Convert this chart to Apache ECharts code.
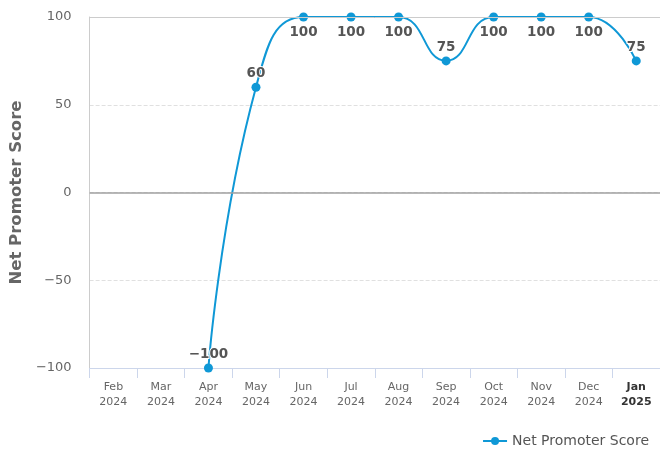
<!DOCTYPE html>
<html>
<head>
<meta charset="utf-8">
<script src="https://cdn.jsdelivr.net/npm/echarts@6/dist/echarts.min.js"></script>
<style>
  html, body { margin: 0; padding: 0; background: #fff; }
  #chart { width: 660px; height: 450px; }
</style>
</head>
<body>
<div id="chart"></div>
<script>
// Net Promoter Score, monthly
var months = ['Feb', 'Mar', 'Apr', 'May', 'Jun', 'Jul', 'Aug', 'Sep', 'Oct', 'Nov', 'Dec', 'Jan'];
var years = ['2024', '2024', '2024', '2024', '2024', '2024', '2024', '2024', '2024', '2024', '2024', '2025'];
var npsValues = ['-', '-', -100, 60, 100, 100, 100, 75, 100, 100, 100, 75];
var yTicks = [-100, -50, 0, 50, 100];

var categories = months.map(function (m, i) { return m + '\n' + years[i]; });

var myChart = echarts.init(document.getElementById('chart'));

function fmtNum(v) {
    return v < 0 ? '\u2212' + Math.abs(v) : String(v);
}

var seriesData = npsValues.map(function (v) {
    if (v === '-') return '-';
    return {
        value: v,
        label: { position: v >= 100 ? 'bottom' : 'top', distance: v >= 100 ? 4 : 2 }
    };
});

var option = {
    animation: false,
    textStyle: { fontFamily: 'DejaVu Sans' },
    grid: { left: 89, right: 0, top: 17, bottom: 82 },
    legend: {
        right: 11,
        bottom: 2,
        padding: 0,
        itemWidth: 24,
        itemHeight: 10,
        textStyle: { color: '#555', fontSize: 14, fontFamily: 'DejaVu Sans' },
        data: ['Net Promoter Score']
    },
    xAxis: {
        type: 'category',
        data: categories,
        boundaryGap: true,
        axisLine: { onZero: false, lineStyle: { color: '#ccd6eb' } },
        axisTick: { show: true, length: 10, lineStyle: { color: '#ccd6eb' } },
        axisLabel: {
            color: '#666',
            fontSize: 11,
            lineHeight: 15,
            margin: 12,
            interval: 0,
            formatter: function (val, idx) {
                var p = val.split('\n');
                if (p[0] === 'Jan') return '{b|' + p[0] + '}\n{b|' + p[1] + '}';
                return p[0] + '\n' + p[1];
            },
            rich: {
                b: { fontWeight: 'bold', color: '#333', fontSize: 11, lineHeight: 15 }
            }
        }
    },
    yAxis: {
        type: 'value',
        min: yTicks[0],
        max: yTicks[yTicks.length - 1],
        interval: 50,
        name: 'Net Promoter Score',
        nameLocation: 'middle',
        nameGap: 62,
        nameTextStyle: { color: '#666', fontSize: 16.5, fontWeight: 'bold' },
        axisLine: { show: true, lineStyle: { color: '#ccc' } },
        axisTick: { show: false },
        axisLabel: {
            color: '#666',
            fontSize: 13,
            margin: 18,
            formatter: fmtNum
        },
        splitLine: { lineStyle: { color: '#e0e0e0', type: 'dashed' } }
    },
    series: [
        {
            name: 'Net Promoter Score',
            type: 'line',
            smooth: 0.5,
            data: seriesData,
            symbol: 'circle',
            symbolSize: 9,
            itemStyle: { color: '#0f98d6' },
            lineStyle: { color: '#0f98d6', width: 2 },
            label: {
                show: true,
                color: '#555',
                fontSize: 13.5,
                fontWeight: 'bold',
                textBorderColor: '#fff',
                textBorderWidth: 2,
                formatter: function (p) { return fmtNum(p.value); }
            },
            markLine: {
                silent: true,
                symbol: 'none',
                label: { show: false },
                data: [
                    { yAxis: 0, lineStyle: { color: '#a0a0a0', width: 1.5, type: 'solid' } },
                    { yAxis: 100, lineStyle: { color: '#cccccc', width: 1, type: 'solid' } }
                ]
            },
            z: 3
        }
    ]
};

myChart.setOption(option);
</script>
</body>
</html>
